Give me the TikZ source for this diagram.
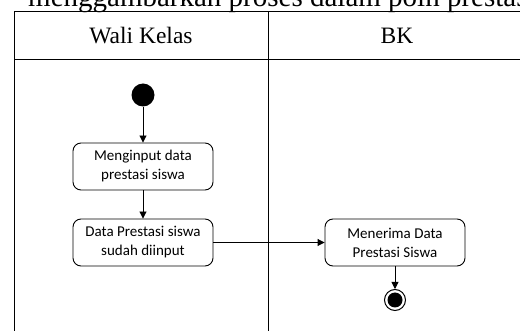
\documentclass[tikz,border=0pt]{standalone}
\usepackage{fontspec}
\setmainfont{Liberation Serif}
\newfontfamily\boxfont{Carlito}
\usetikzlibrary{positioning,arrows.meta}

\tikzset{
  act/.style={draw,rounded corners=8pt,minimum width=140pt,minimum height=47pt,
    align=center,font=\boxfont\fontsize{15}{19}\selectfont,line width=0.9pt},
  flow/.style={-{Triangle[length=7pt,width=7pt]},line width=0.9pt},
  lane/.style={line width=1pt},
  headtxt/.style={font=\fontsize{23.5}{28}\selectfont},
}

\begin{document}
\begin{tikzpicture}[x=1pt,y=1pt]
  \useasboundingbox (0,0) rectangle (520,-331);
  \clip (0,0) rectangle (520,-331);
  % text line cut off above the figure
  \node[font=\fontsize{29}{34}\selectfont,anchor=base west,inner sep=0] (cap) at (28,-6.5)
    {menggambarkan proses dalam poin prestasi};
  % swimlanes
  \draw[lane] (14,-340) -- (14,-12) -- (526,-12) -- (526,-340);
  \draw[lane] (14,-60) -- (526,-60);
  \draw[lane] (268,-12) -- (268,-340);
  \node[headtxt] (wali) at (141,-36) {Wali Kelas};
  \node[headtxt] (bk) at (397,-36) {BK};
  % activities
  \node[circle,fill=black,minimum size=23pt,inner sep=0] (start) at (143,-95) {};
  \node[act] (input) at (143,-166.5) {Menginput data\\prestasi siswa};
  \node[act] (done) at (143,-242.5) {Data Prestasi siswa\\sudah diinput};
  \node[act] (terima) at (395,-242.5) {Menerima Data\\Prestasi Siswa};
  \node[circle,draw,line width=1pt,minimum size=21pt,inner sep=0] (stop) at (395,-300) {};
  \node[circle,fill=black,minimum size=15pt,inner sep=0] (stopin) at (stop) {};
  % flows
  \draw[flow] (start) -- (input);
  \draw[flow] (input) -- (done);
  \draw[flow] (done) -- (terima);
  \draw[flow] (terima) -- (stop);
\end{tikzpicture}
\end{document}
